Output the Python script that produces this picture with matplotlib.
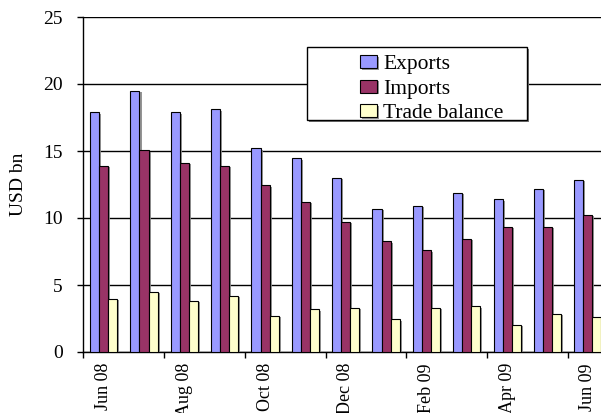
import numpy as np
import matplotlib
matplotlib.use("Agg")
import matplotlib.pyplot as plt
from matplotlib import patheffects as pe
from matplotlib.patches import Rectangle

months = ["Jun 08", "Jul 08", "Aug 08", "Sep 08", "Oct 08", "Nov 08", "Dec 08",
          "Jan 09", "Feb 09", "Mar 09", "Apr 09", "May 09", "Jun 09"]
exports = [17.9, 19.5, 17.9, 18.1, 15.2, 14.45, 13.0, 10.7, 10.9, 11.9, 11.4, 12.2, 12.85]
imports = [13.9, 15.05, 14.1, 13.9, 12.45, 11.2, 9.7, 8.25, 7.6, 8.45, 9.35, 9.35, 10.25]
balance = [3.95, 4.5, 3.8, 4.2, 2.7, 3.2, 3.3, 2.45, 3.3, 3.4, 2.05, 2.85, 2.6]

plt.rcParams['font.family'] = ['Liberation Serif', 'DejaVu Serif']

W, H = 601, 413
fig = plt.figure(figsize=(W / 100, H / 100), dpi=100)
# right part of the plot area is cut off by the picture edge, like the original
ax = fig.add_axes([83.5 / W, 61 / H, 524.5 / W, 335 / H])

x = np.arange(len(months))
w = 0.225
shadow = [pe.SimplePatchShadow(offset=(1.5, -1.0), shadow_rgbFace='#888888', alpha=0.9), pe.Normal()]
series = [(exports, '#9999FF', 'Exports'), (imports, '#993366', 'Imports'),
          (balance, '#FFFFCC', 'Trade balance')]
for i, (vals, col, lab) in enumerate(series):
    bars = ax.bar(x + (i - 1) * w, vals, w, color=col, edgecolor='black', linewidth=0.8,
                  label=lab, zorder=3)
    for b in bars:
        b.set_path_effects(shadow)

ax.set_xlim(-0.5, len(months) - 0.5)
ax.set_ylim(0, 25)
ax.set_yticks([0, 5, 10, 15, 20, 25])
ax.tick_params(axis='y', labelsize=14, direction='out', length=4.5, width=1, pad=10.5)
ax.yaxis.grid(True, color='black', linewidth=1, zorder=0)
ax.set_axisbelow(True)

# major ticks on category boundaries, labels centred on the categories
ax.set_xticks(np.arange(-0.5, len(months), 2))
ax.set_xticklabels([])
ax.set_xticks(x[::2], minor=True)
ax.set_xticklabels(months[::2], minor=True, rotation=90, fontsize=13)
ax.tick_params(axis='x', which='major', direction='out', length=4, width=1)
ax.tick_params(axis='x', which='minor', length=0, pad=8)

for s in ['top', 'right']:
    ax.spines[s].set_visible(False)
ax.spines['left'].set_linewidth(1)
ax.spines['bottom'].set_linewidth(1)

ax.set_ylabel("USD bn", fontsize=14)
ax.yaxis.set_label_coords((27 - 83.5) / 524.5, 0.5)

# legend box drawn by hand: wide left padding as in the original
bx0, bx1, by0, by1 = 307, 527, 47, 120
fig.patches.append(Rectangle(((bx0 + 2) / W, 1 - (by1 + 2) / H), (bx1 - bx0) / W, (by1 - by0) / H,
                             transform=fig.transFigure, facecolor='#777777', edgecolor='none',
                             zorder=4))
fig.patches.append(Rectangle((bx0 / W, 1 - by1 / H), (bx1 - bx0) / W, (by1 - by0) / H,
                             transform=fig.transFigure, facecolor='white', edgecolor='black',
                             linewidth=1, zorder=4.5))
leg = fig.legend(loc='upper left', bbox_to_anchor=(343 / W, 1 - 38 / H), fontsize=15.5,
                 frameon=False, handlelength=0.78, handleheight=0.55, handletextpad=0.3,
                 labelspacing=0.25, borderpad=0.3)
leg.set_zorder(5)

fig.savefig("out.png", dpi=100)
